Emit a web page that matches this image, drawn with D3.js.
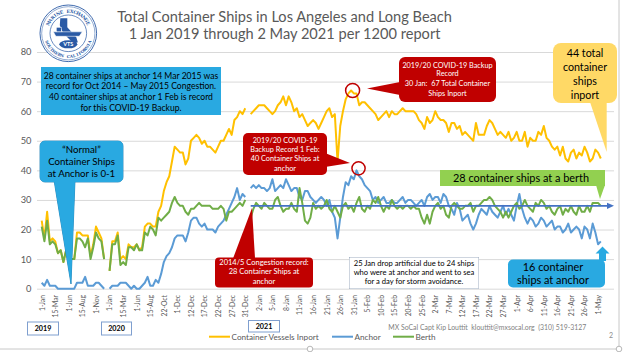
<!DOCTYPE html>
<html>
<head>
<meta charset="utf-8">
<script src="https://cdnjs.cloudflare.com/ajax/libs/d3/7.8.5/d3.min.js"></script>
<style>
  html, body { margin: 0; padding: 0; background: #fff; }
  svg { display: block; font-family: Lato, 'Open Sans', sans-serif; }
  svg text { white-space: pre; }
</style>
</head>
<body>
<svg id="chart" width="624" height="352"></svg>
<script>
// category labels, one every 5 categories
let tickLabels = ['1-Jan', '15-Mar', '1-Jun', '15-Aug', '1-Nov',
  '1-Jan', '15-Mar', '1-Jun', '15-Aug', '22-Oct', '1-Dec', '12-Dec', '17-Dec', '22-Dec', '27-Dec', '31-Dec',
  '2-Jan', '5-Jan', '8-Jan', '11-Jan', '16-Jan', '21-Jan', '26-Jan', '31-Jan',
  '5-Feb', '10-Feb', '15-Feb', '20-Feb', '25-Feb',
  '2-Mar', '7-Mar', '12-Mar', '17-Mar', '22-Mar', '27-Mar',
  '1-Apr', '6-Apr', '11-Apr', '16-Apr', '21-Apr', '26-Apr', '1-May'];
let labelEvery = 5;

let yTicks = [0, 10, 20, 30, 40, 50, 60, 70, 80];

// Container Vessels Inport
let inport = [
  23, 17, 26, 16, 17, 16, 12, 13, 9, 13, 12, 10, 10, 19, 19, 18, 18, 18, 11, 15, 21, 19, 17, 10,
  null,
  6, 16, 16, 19, 10, 11, 10, 15, 14, 14, 15, 13, 14, 21, 22, 22, 21, 21, 26, 28, 33, 36, 38, 43, 48,
  47, 46, 46, 42, 44, 50, 51, 52, 51, 49, 50, 48, 48, 47, 46, 48, 50, 50, 52, 54, 52, 57, 58, 60, 59, 61,
  null,
  59, 60, 61, 62, 62, 62, 61, 60, 59, 60, 62, 63, 65, 62, 65, 63, 60, 61, 58, 59,
  57, 55, 56, 57, 56, 54, 56, 58, 60, 61, 58, 59, 43, 55, 60, 64, 66, 67, 66, 66,
  62, 63, 63, 62, 61, 60, 59, 57, 58, 59, 60, 58, 60, 59, 59, 60, 61, 60, 60, 60, 60, 59, 57, 56,
  54, 58, 56, 57, 60, 58, 57, 57, 56, 53, 56, 56, 54, 55, 52, 53, 52, 51, 50, 56,
  52, 52, 52, 55, 57, 56, 54, 52, 53, 52, 51, 53, 50, 51, 53, 50, 50, 53, 48, 51,
  50, 50, 53, 52, 55, 51, 50, 48, 47, 48, 45, 48, 44, 43, 46, 47, 44, 46, 45, 48,
  46, 43, 44, 47, 46, 44];

// Anchor
let anchor = [
  2, 1, 3, 1, 1, 1, 0, 0, 0, 0, 0, 0, 0, 2, 2, 2, 4, 1, 1, 1, 2, 2, 1, 0,
  null,
  0, 1, 1, 1, 2, 2, 2, 1, 0, 1, 0, 0, 1, 2, 4, 1, 1, 3, 2, 5, 9, 11, 12, 14, 17,
  18, 18, 18, 16, 19, 23, 24, 24, 22, 21, 22, 20, 20, 20, 19, 21, 22, 23, 25, 27, 29, 31, 34, 30, 32, 31,
  null,
  34, 35, 34, 35, 34, 34, 33, 34, 37, 33, 34, 35, 34, 37, 35, 33, 34, 34, 31, 30,
  33, 33, 31, 30, 29, 30, 31, 30, 28, 30, 26, 24, 17, 24, 31, 36, 35, 38, 37, 40,
  38, 37, 35, 34, 33, 30, 31, 29, 30, 31, 29, 29, 30, 29, 29, 30, 31, 29, 30, 30, 29, 28, 29, 30,
  28, 31, 32, 30, 31, 31, 29, 32, 31, 28, 27, 25, 29, 27, 23, 24, 25, 22, 20, 22,
  25, 27, 26, 25, 28, 26, 25, 24, 26, 28, 25, 27, 25, 23, 28, 32, 27, 24, 22, 24,
  23, 21, 22, 24, 23, 21, 22, 23, 20, 21, 21, 19, 20, 22, 19, 20, 21, 20, 17, 21,
  20, 17, 22, 19, 15, 16];

// Berth
let berth = [
  21, 16, 23, 15, 16, 15, 12, 13, 9, 13, 12, 10, 10, 17, 17, 16, 14, 17, 10, 14, 19, 17, 16, 10,
  null,
  6, 15, 15, 18, 8, 9, 8, 14, 14, 13, 15, 13, 13, 19, 18, 21, 20, 18, 24, 23, 24, 25, 26, 29, 31,
  29, 28, 28, 26, 25, 27, 27, 28, 29, 28, 28, 28, 28, 27, 27, 27, 28, 27, 23, 26, 26, 27, 28, 29, 28, 30,
  null,
  24, 27, 29, 28, 27, 29, 28, 27, 27, 30, 31, 28, 26, 27, 27, 29, 27, 26, 34, 29,
  23, 22, 24, 29, 27, 28, 27, 28, 30, 27, 26, 28, 26, 24, 28, 29, 27, 28, 26, 29,
  31, 27, 26, 28, 27, 30, 29, 31, 28, 26, 28, 27, 30, 28, 27, 28, 27, 28, 28, 27, 28, 27, 27, 24,
  22, 25, 22, 26, 28, 29, 27, 28, 25, 24, 28, 29, 28, 27, 27, 28, 28, 29, 26, 28,
  28, 29, 30, 30, 31, 30, 28, 27, 26, 24, 26, 24, 26, 28, 29, 27, 28, 30, 28, 27,
  26, 29, 28, 30, 29, 27, 28, 26, 25, 27, 28, 25, 27, 26, 28, 26, 25, 28, 26, 26,
  28, 26, 29, 29, 29, 28];

let seriesNames = ['Container Vessels Inport', 'Anchor', 'Berth'];
let seriesColors = ['#FFC000', '#5B9BD5', '#70AD47'];

let svg = d3.select('#chart');
let plotLeft = 37, plotRight = 614, plotTop = 52, plotBottom = 288.7;
let ink = '#595959';

let categories = d3.range(inport.length);
let x = d3.scalePoint().domain(categories).range([41.7, 600.8]);
let y = d3.scaleLinear().domain([0, 80]).range([plotBottom, plotTop]);

// gridlines + y labels
let yAxis = d3.axisLeft(y)
  .tickValues(yTicks)
  .tickSize(-(plotRight - plotLeft))
  .tickPadding(5.5);

svg.append('g')
  .attr('class', 'y-axis')
  .attr('transform', 'translate(' + plotLeft + ',0)')
  .call(yAxis)
  .call(function (g) {
    g.select('.domain').remove();
    g.selectAll('line').attr('stroke', '#d9d9d9').attr('stroke-width', 1);
    g.selectAll('text').attr('fill', ink).style('font-size', '9.3px').style('font-family', 'Lato');
  });

// x labels, rotated
let xAxis = d3.axisBottom(x)
  .tickValues(categories.filter(function (i) { return i % labelEvery === 0; }))
  .tickFormat(function (i) { return tickLabels[i / labelEvery]; })
  .tickSize(0);

svg.append('g')
  .attr('class', 'x-axis')
  .attr('transform', 'translate(0,' + plotBottom + ')')
  .call(xAxis)
  .call(function (g) {
    g.select('.domain').remove();
    g.selectAll('text')
      .attr('transform', 'rotate(-90)')
      .attr('x', -6.3)
      .attr('y', 0)
      .attr('dy', '0.35em')
      .attr('text-anchor', 'end')
      .attr('fill', ink)
      .style('font-size', '6.8px')
      .style('font-family', 'Lato');
  });

// series
let line = d3.line()
  .defined(function (d) { return d !== null; })
  .x(function (d, i) { return x(i); })
  .y(function (d) { return y(d); });

[inport, anchor, berth].forEach(function (values, k) {
  svg.append('path')
    .datum(values)
    .attr('fill', 'none')
    .attr('stroke', seriesColors[k])
    .attr('stroke-width', 2)
    .attr('stroke-linejoin', 'round')
    .attr('d', line);
});

// ---------- annotations ----------
let addLines = function (g, lines, cx, size, fill, weight) {
  lines.forEach(function (l) {
    g.append('text')
      .attr('x', cx)
      .attr('y', l[1])
      .attr('text-anchor', 'middle')
      .attr('fill', fill)
      .style('font-size', size + 'px')
      .style('font-weight', weight || 'normal')
      .text(l[0]);
  });
};

let callout = function (box, pointer, fill, stroke) {
  let g = svg.append('g');
  let draw = function (withStroke) {
    g.append('rect')
      .attr('x', box[0]).attr('y', box[1])
      .attr('width', box[2]).attr('height', box[3])
      .attr('rx', box[4] || 0)
      .attr('fill', fill)
      .attr('stroke', withStroke ? stroke : 'none')
      .attr('stroke-width', 0.8);
    if (pointer) {
      g.append('polygon')
        .attr('points', pointer.map(function (p) { return p.join(','); }).join(' '))
        .attr('fill', fill)
        .attr('stroke', withStroke ? stroke : 'none')
        .attr('stroke-width', 0.8);
    }
  };
  if (stroke) draw(true);
  draw(false);
  return g;
};

// blue arrow at 28
let arrowY = y(28);
svg.append('line')
  .attr('x1', x(77)).attr('x2', 608)
  .attr('y1', arrowY).attr('y2', arrowY)
  .attr('stroke', '#4472C4').attr('stroke-width', 1.6);
svg.append('polygon')
  .attr('points', [[607, arrowY - 3.2], [614, arrowY], [607, arrowY + 3.2]].map(function (p) { return p.join(','); }).join(' '))
  .attr('fill', '#4472C4');

// info box
let info = callout([41, 67, 180, 48, 0], null, '#29A9E1', null);
addLines(info, [
  ['28 container ships at anchor 14 Mar 2015 was', 78.5],
  ['record for Oct 2014 \u2013 May 2015 Congestion.', 89.3],
  ['40 container ships at anchor 1 Feb is record', 100.1],
  ['for this COVID-19 Backup.', 110.9]
], 131, 8.6, '#000');

// normal callout
let normal = callout([40, 141, 83, 41, 5], [[54, 180], [75, 180], [71, 284]], '#29A9E1', '#1B7CB3');
addLines(normal, [
  ['\u201CNormal\u201D', 152.8],
  ['Container Ships', 165.2],
  ['at Anchor is 0-1', 177]
], 81.5, 9.7, '#000');

// 1 Feb anchor record
let feb = callout([243, 133, 84, 42, 5], [[325, 153], [325, 167], [350, 163]], '#C00000', null);
addLines(feb, [
  ['2019/20 COVID-19', 142.6],
  ['Backup Record 1 Feb:', 151.9],
  ['40 Container Ships at', 161.3],
  ['anchor', 170.8]
], 285, 7.3, '#fff');
svg.append('circle')
  .attr('cx', x(116) + 2).attr('cy', y(40) - 2).attr('r', 6.6)
  .attr('fill', 'none').attr('stroke', '#C00000').attr('stroke-width', 1.5);

// 30 Jan inport record
let jan = callout([399, 57, 97, 45, 6], [[400, 82], [400, 95], [367, 88.5]], '#C00000', null);
addLines(jan, [
  ['2019/20 COVID-19 Backup', 67.8],
  ['Record', 76.2],
  ['30 Jan:  67 Total Container', 86.2],
  ['Ships Inport', 95.5]
], 447.5, 7.3, '#fff');
svg.append('circle')
  .attr('cx', x(114) + 1.5).attr('cy', y(67)).attr('r', 7)
  .attr('fill', 'none').attr('stroke', '#C00000').attr('stroke-width', 1.5);

// 44 total
let total = callout([553, 43, 64, 60, 8], [[590, 102], [606.7, 102], [606.7, 152]], '#FFD966', null);
addLines(total, [
  ['44 total', 56.8],
  ['container', 70.8],
  ['ships', 84.8],
  ['inport', 98.8]
], 585, 10.7, '#000');

// 28 at a berth
let berthBox = callout([440, 170, 165, 16, 0], [[596, 185], [605, 185], [600, 199]], '#92D050', null);
addLines(berthBox, [['28 container ships at a berth', 181.5]], 521, 10.9, '#000');

// 2014/5 congestion
let cong = callout([215, 257.5, 98, 30, 4], [[233, 258.5], [255, 258.5], [252, 208]], '#C00000', null);
addLines(cong, [
  ['2014/5 Congestion record:', 264.6],
  ['28 Container Ships at', 274.4],
  ['anchor', 283.6]
], 264, 7.5, '#fff');

// 25 Jan note
let note = callout([349.5, 257.5, 129, 31, 0], null, '#fff', '#8497B0');
addLines(note, [
  ['25 Jan drop artificial due to 24 ships', 265.5],
  ['who were at anchor and went to sea', 274.5],
  ['for a day for storm avoidance.', 283.5]
], 414, 7.6, '#000');

// 16 at anchor
let sixteen = callout([508, 259.5, 97, 28, 5], [[599, 261], [606, 261], [606, 253.5], [609.5, 253.5], [602.5, 246.5], [595.5, 253.5], [599, 253.5]], '#29A9E1', null);
addLines(sixteen, [
  ['16 container', 271],
  ['ships at anchor', 284]
], 553, 10.9, '#000');

// year boxes
[['2019', 27.5, 322, 31, 13], ['2020', 101.5, 322, 30, 13], ['2021', 248.5, 320.5, 31, 11.5]].forEach(function (b) {
  svg.append('rect')
    .attr('x', b[1]).attr('y', b[2]).attr('width', b[3]).attr('height', b[4])
    .attr('fill', '#fff').attr('stroke', '#7F9FCF').attr('stroke-width', 1);
  svg.append('text')
    .attr('x', b[1] + b[3] / 2).attr('y', b[2] + b[4] / 2 + 2.6)
    .attr('text-anchor', 'middle')
    .style('font-size', '7.2px').style('font-weight', 'bold')
    .attr('fill', '#000')
    .text(b[0]);
});

// legend
let legendX = [209, 332, 393];
seriesNames.forEach(function (name, k) {
  svg.append('line')
    .attr('x1', legendX[k]).attr('x2', legendX[k] + 21)
    .attr('y1', 336.7).attr('y2', 336.7)
    .attr('stroke', seriesColors[k]).attr('stroke-width', 2);
  svg.append('text')
    .attr('x', legendX[k] + 22.5).attr('y', 339.6)
    .attr('fill', ink)
    .style('font-size', '8.2px')
    .text(name);
});

// credit + page number
svg.append('text')
  .attr('x', 388.3).attr('y', 330)
  .attr('fill', '#7F7F7F')
  .style('font-size', '6.9px')
  .text('MX SoCal Capt Kip Louttit  klouttit@mxsocal.org  (310) 519-3127');
svg.append('text')
  .attr('x', 609).attr('y', 337.5)
  .attr('fill', '#8C8C8C')
  .style('font-size', '7px')
  .text('2');

// title
svg.append('text')
  .attr('x', 284.6).attr('y', 22)
  .attr('text-anchor', 'middle').attr('fill', ink)
  .style('font-size', '14.6px')
  .text('Total Container Ships in Los Angeles and Long Beach');
svg.append('text')
  .attr('x', 284.6).attr('y', 39)
  .attr('text-anchor', 'middle').attr('fill', ink)
  .style('font-size', '14.6px')
  .text('1 Jan 2019 through 2 May 2021 per 1200 report');

// logo
let logoBlue = '#2A5AA5';
let logo = svg.append('g').attr('transform', 'translate(68.3,33.3)');

// letters set one by one around the ring
let ringText = function (str, radius, step, top, size) {
  let n = str.length;
  str.split('').forEach(function (ch, k) {
    let off = (k - (n - 1) / 2) * step;
    let a = top ? -90 + off : 90 - off;
    let rad = a * Math.PI / 180;
    logo.append('text')
      .attr('transform', 'translate(' + (radius * Math.cos(rad)).toFixed(2) + ',' + (radius * Math.sin(rad)).toFixed(2) + ') rotate(' + (top ? a + 90 : a - 90).toFixed(1) + ')')
      .attr('text-anchor', 'middle')
      .attr('fill', logoBlue)
      .style('font-family', "'DejaVu Serif', serif")
      .style('font-size', size + 'px')
      .style('font-weight', 'bold')
      .text(ch);
  });
};

logo.append('circle').attr('r', 28.3).attr('fill', '#fff').attr('stroke', logoBlue).attr('stroke-width', 0.9);
logo.append('circle').attr('r', 26.6).attr('fill', 'none').attr('stroke', logoBlue).attr('stroke-width', 0.5);
logo.append('circle').attr('r', 18.3).attr('fill', 'none').attr('stroke', logoBlue).attr('stroke-width', 0.7);
ringText('MARINE EXCHANGE', 20.6, 9, true, 4.6);
ringText('SOUTHERN CALIFORNIA', 24.6, 7.6, false, 4.1);
logo.append('polygon')
  .attr('points', '-8,-15 -1,-15 -1,-6 8,4 9.5,9 5,10.5 2,7 -2,3 -6,-2 -8.5,-8')
  .attr('fill', logoBlue);
logo.append('polygon')
  .attr('points', '-15,-1.5 14,-1.5 11,3 -12.5,3')
  .attr('fill', logoBlue).attr('stroke', '#fff').attr('stroke-width', 0.6);
logo.append('rect').attr('x', -12).attr('y', -6).attr('width', 5).attr('height', 4.5)
  .attr('fill', logoBlue).attr('stroke', '#fff').attr('stroke-width', 0.5);
logo.append('ellipse').attr('cx', 0).attr('cy', 11).attr('rx', 9).attr('ry', 4)
  .attr('fill', logoBlue);
logo.append('text')
  .attr('x', 0).attr('y', 13)
  .attr('text-anchor', 'middle').attr('fill', '#fff')
  .style('font-size', '5.5px').style('font-weight', 'bold')
  .text('VTS');

// slide frame
svg.append('line').attr('x1', 0).attr('x2', 619).attr('y1', 349).attr('y2', 349)
  .attr('stroke', '#C8C8C8').attr('stroke-width', 1);
svg.append('line').attr('x1', 619).attr('x2', 619).attr('y1', 0).attr('y2', 349)
  .attr('stroke', '#C8C8C8').attr('stroke-width', 1);
[[310, 349], [619, 349]].forEach(function (p) {
  svg.append('circle').attr('cx', p[0]).attr('cy', p[1]).attr('r', 2.8)
    .attr('fill', '#fff').attr('stroke', '#A6A6A6').attr('stroke-width', 0.8);
});
</script>
</body>
</html>
